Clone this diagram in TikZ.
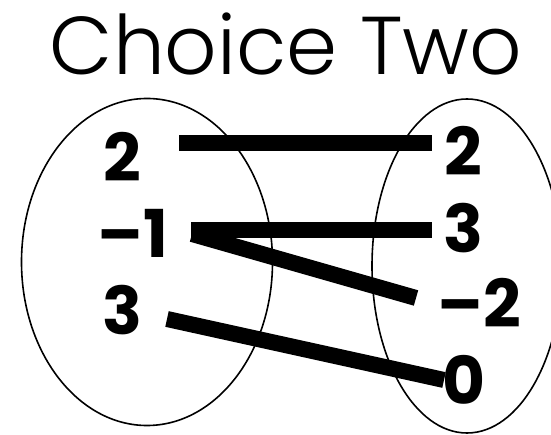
\documentclass[tikz,border=0pt]{standalone}
\usepackage{fontspec}
\usepackage{tikz}
\usetikzlibrary{shapes.geometric}
\newfontfamily\titlefont{Poppins Light}
\newfontfamily\numfont{Poppins Bold}
\tikzstyle{set}   = [ellipse, draw=black, line width=1.6pt, inner sep=0pt]
\tikzstyle{value} = [inner sep=0pt, font=\numfont\fontsize{66}{66}\selectfont]
\tikzstyle{link}  = [line width=16pt, line cap=butt]

\begin{document}
\begin{tikzpicture}[x=1pt, y=-1pt]
\useasboundingbox (0,0) rectangle (551,435);
\node (title) at (286,44) {\titlefont\fontsize{82}{82}\selectfont Choice Two};
\node (domain) [set, minimum width=251pt, minimum height=327pt] at (147,262) {};
\node (range) [set, minimum width=190pt, minimum height=334pt] at (467,266) {};

\node (l2)  [value] at (122,157) {2};
\node (lm1) [value] at (133,233) {–1};
\node (l3)  [value] at (122,310) {3};
\node (r2)  [value] at (463,151) {2};
\node (r3)  [value] at (463,228) {3};
\node (rm2) [value] at (479,303) {–2};
\node (r0)  [value] at (464,380) {0};

\draw [link] ([shift={(57,-13.5)}]l2.center) -- ([shift={(-31,-7.5)}]r2.center);
\draw [link] ([shift={(58,-3)}]lm1.center) -- ([shift={(-31,2)}]r3.center);
\draw [link] ([shift={(59,1)}]lm1.center) -- ([shift={(-63,-5)}]rm2.center);
\draw [link] ([shift={(45,9)}]l3.center) -- ([shift={(-20,0)}]r0.center);
\end{tikzpicture}
\end{document}
